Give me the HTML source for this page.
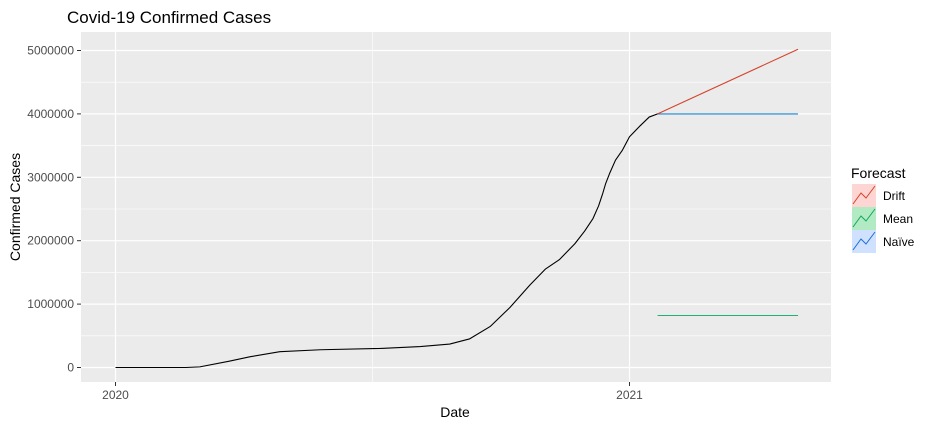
<!DOCTYPE html>
<html><head><meta charset="utf-8"><style>
body{margin:0;background:#fff;width:940px;height:428px;overflow:hidden;font-family:"Liberation Sans",Arial,sans-serif}
</style></head><body>
<svg id="chart" width="940" height="428" xmlns="http://www.w3.org/2000/svg" font-family="Liberation Sans, Arial, sans-serif">
<text x="67" y="23" font-size="17" fill="#000">Covid-19 Confirmed Cases</text>
<rect x="81" y="32" width="750" height="350" fill="#ebebeb"/>
<g id="grid"></g><g id="axes"></g><g id="series"></g>
<text x="455" y="417" font-size="14" text-anchor="middle" fill="#000">Date</text>
<text x="20" y="207" font-size="14" text-anchor="middle" fill="#000" transform="rotate(-90 20 207)">Confirmed Cases</text>
<g>
<text x="851" y="178" font-size="14" fill="#000">Forecast</text>
<g id="legend"></g>
</g>
</svg>
<script>
const yTicks=[0,1000000,2000000,3000000,4000000,5000000];
const xTickDays=[0,366];
const xTickLabels=["2020","2021"];
const actualDays=[0,50,60,81,96,117,146,188,217,238,252,267,281,295,306,316,327,334,340,344,347,349,352,356,361,366,373,380,386];
const actualValues=[0,0,10000,100000,170000,250000,280000,300000,330000,370000,450000,650000,950000,1300000,1550000,1700000,1950000,2150000,2350000,2550000,2750000,2900000,3070000,3270000,3430000,3640000,3800000,3950000,4000000];
const forecastStartDay=386, forecastEndDay=486;
const driftValues=[4000000,5020000];
const meanValues=[820000,820000];
const naiveValues=[4000000,4000000];
const legendNames=["Drift","Mean","Naïve"];
const legendColors=["#F8766D","#00BA38","#619CFF"];
const legendLineColors=["#d6432c","#10a860","#1a6fd6"];
const lineColors={Drift:"#d6432c",Mean:"#1fb075",Naive:"#1a86d6"};
const NS="http://www.w3.org/2000/svg";
const xS=d=>115.5+d*1.4044;
const yS=v=>367.5-v/1000000*63.4;
function mk(t,a,p){const e=document.createElementNS(NS,t);for(const k in a)e.setAttribute(k,a[k]);p.appendChild(e);return e;}
const grid=document.getElementById('grid'),axes=document.getElementById('axes'),ser=document.getElementById('series');
for(let i=0;i<yTicks.length-1;i++){const y=(yS(yTicks[i])+yS(yTicks[i+1]))/2;
const l=mk('line',{x1:81,x2:831,y1:y,y2:y,stroke:'#fff','stroke-width':0.6},grid);
}
{const x=(xS(0)+xS(366))/2;const l=mk('line',{x1:x,x2:x,y1:32,y2:382,stroke:'#fff','stroke-width':0.6},grid);
}
yTicks.forEach(v=>{const y=yS(v);
const g=mk('line',{x1:81,x2:831,y1:y,y2:y,stroke:'#fff','stroke-width':1.2},grid);

mk('line',{x1:77,x2:81,y1:y,y2:y,stroke:'#333'},axes);
const t=mk('text',{x:74,y:y+4,'font-size':12,'text-anchor':'end',fill:'#4d4d4d'},axes);t.textContent=v;
});
xTickDays.forEach((d,i)=>{const x=xS(d);
const g=mk('line',{x1:x,x2:x,y1:32,y2:382,stroke:'#fff','stroke-width':1.2},grid);

mk('line',{x1:x,x2:x,y1:382,y2:386,stroke:'#333'},axes);
const t=mk('text',{x:x,y:399,'font-size':12,'text-anchor':'middle',fill:'#4d4d4d'},axes);t.textContent=xTickLabels[i];
});
const pts=actualDays.map((d,i)=>xS(d)+','+yS(actualValues[i])).join(' ');
const a=mk('polyline',{points:pts,fill:'none',stroke:'#000','stroke-width':1.1,'stroke-linejoin':'round'},ser);

[[meanValues,lineColors.Mean,'mean-forecast-line'],[naiveValues,lineColors.Naive,'naive-forecast-line'],[driftValues,lineColors.Drift,'drift-forecast-line']].forEach(([vals,c,n])=>{
const l=mk('line',{x1:xS(forecastStartDay),y1:yS(vals[0]),x2:xS(forecastEndDay),y2:yS(vals[1]),stroke:c,'stroke-width':1.1},ser);
});
const lg=document.getElementById('legend');
legendNames.forEach((n,i)=>{const y=184+i*23;
const g=mk('g',{},lg);
mk('rect',{x:852,y:y,width:24,height:23,fill:legendColors[i],'fill-opacity':0.3},g);
mk('polyline',{points:`${853},${y+20} ${861},${y+9} ${866},${y+14} ${875},${y+2}`,fill:'none',stroke:legendLineColors[i],'stroke-width':1},g);
const t=mk('text',{x:883,y:y+16,'font-size':12,fill:'#000'},g);t.textContent=n;});
</script>
</body></html>
